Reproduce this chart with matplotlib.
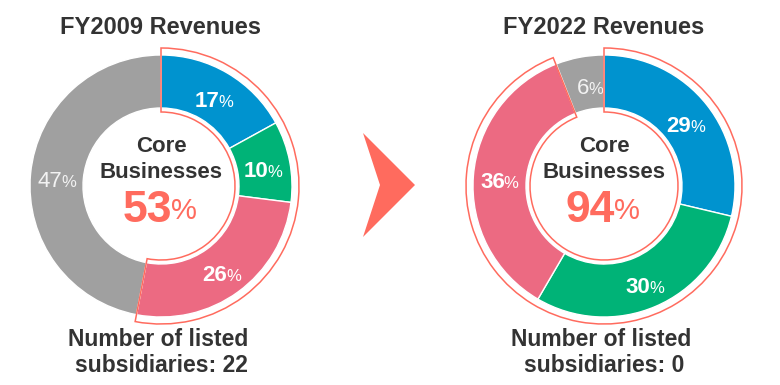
import numpy as np
import matplotlib.pyplot as plt
from matplotlib.patches import Wedge, Polygon

plt.rcParams['font.family'] = ['Liberation Sans', 'DejaVu Sans']

# datos
titles = ['FY2009 Revenues', 'FY2022 Revenues']
segments = ['blue', 'green', 'pink', 'other']
shares_2009 = [17, 10, 26, 47]
shares_2022 = [29, 30, 36, 6]
core_2009 = 53
core_2022 = 94
listed = [22, 0]

colors = ['#0093cf', '#00b377', '#ec6a82', '#a0a0a0']
salmon = '#ff6b5e'
dark = '#333333'

W, H = 780, 385
fig = plt.figure(figsize=(W / 100, H / 100), dpi=100)
ax = fig.add_axes([0, 0, 1, 1])

R, r_in = 131, 78
cy = H - 186


def pct_label(x, y, num, size, pct_size, color, weight='bold', shift=5):
    ax.text(x + shift, y, str(num), ha='right', va='center', fontsize=size,
            color=color, fontweight=weight)
    ax.text(x + shift - 1, y - 1, '%', ha='left', va='center', fontsize=pct_size,
            color=color)


def donut(cx, shares, core, title, n_listed):
    ax.pie(shares, colors=colors, startangle=90, counterclock=False,
           center=(cx, cy), radius=R,
           wedgeprops=dict(width=R - r_in, edgecolor='white', linewidth=1))
    # contorno del nucleo
    ax.add_patch(Wedge((cx, cy), 138, 90 - core * 3.6, 90, width=138 - 74,
                       fill=False, edgecolor=salmon, linewidth=1.1, zorder=5))
    # etiquetas
    tot = sum(shares)
    acc = 0
    for i, v in enumerate(shares):
        mid = 90 - (acc + v / 2) / tot * 360
        acc += v
        rm = (R + r_in) / 2
        x = cx + rm * np.cos(np.radians(mid))
        y = cy + rm * np.sin(np.radians(mid)) - 5
        if i < 3:
            pct_label(x, y, v, 16, 12, 'white')
        else:
            pct_label(x, y, v, 16, 12, '#f2f2f2', weight='normal')
    ax.text(cx, H - 146, 'Core', ha='center', va='center', fontsize=16,
            color=dark, fontweight='bold')
    ax.text(cx, H - 172, 'Businesses', ha='center', va='center', fontsize=16,
            color=dark, fontweight='bold')
    pct_label(cx, H - 210, core, 32, 21, salmon, shift=11)
    ax.text(cx, H - 28, title, ha='center', va='center', fontsize=17,
            color=dark, fontweight='bold')
    ax.text(cx - 3, H - 340, 'Number of listed', ha='center', va='center',
            fontsize=16.5, color=dark, fontweight='bold')
    ax.text(cx, H - 366, f'subsidiaries: {n_listed}', ha='center', va='center',
            fontsize=16.5, color=dark, fontweight='bold')


donut(161, shares_2009, core_2009, titles[0], listed[0])
donut(604, shares_2022, core_2022, titles[1], listed[1])

# flecha
ax.add_patch(Polygon([(363, H - 133), (415, H - 185), (363, H - 237), (380, H - 185)],
                     closed=True, color=salmon, lw=0))

ax.set_xlim(0, W)
ax.set_ylim(0, H)
ax.set_aspect('auto')
ax.axis('off')
fig.savefig('out.png', dpi=100, facecolor='white')
